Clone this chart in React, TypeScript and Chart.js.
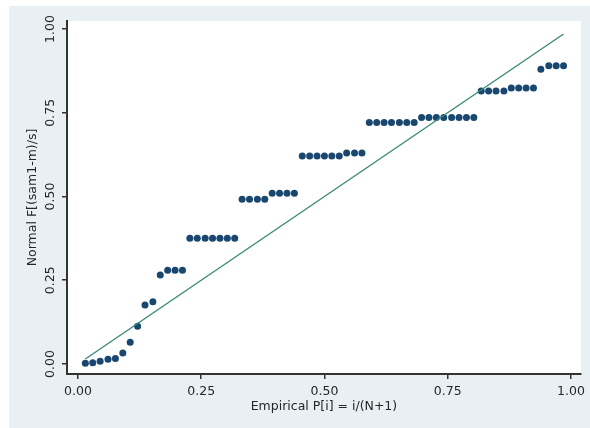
import React, { useEffect, useRef } from "react";
import { Chart, registerables } from "chart.js";

Chart.register(...registerables);

// Empirical P[i] = i/(N+1), N = 65
const empiricalP = [
  0.015, 0.030, 0.045, 0.061, 0.076, 0.091, 0.106, 0.121, 0.136, 0.152,
  0.167, 0.182, 0.197, 0.212, 0.227, 0.242, 0.258, 0.273, 0.288, 0.303,
  0.318, 0.333, 0.348, 0.364, 0.379, 0.394, 0.409, 0.424, 0.439, 0.455,
  0.470, 0.485, 0.500, 0.515, 0.530, 0.545, 0.561, 0.576, 0.591, 0.606,
  0.621, 0.636, 0.652, 0.667, 0.682, 0.697, 0.712, 0.727, 0.742, 0.758,
  0.773, 0.788, 0.803, 0.818, 0.833, 0.848, 0.864, 0.879, 0.894, 0.909,
  0.924, 0.939, 0.955, 0.970, 0.985,
];

// Normal F[(sam1-m)/s]
const normalF = [
  0.002, 0.004, 0.008, 0.014, 0.016, 0.033, 0.065, 0.113, 0.176, 0.186,
  0.266, 0.280, 0.280, 0.280, 0.375, 0.375, 0.375, 0.375, 0.375, 0.375,
  0.375, 0.492, 0.492, 0.492, 0.492, 0.510, 0.510, 0.510, 0.510, 0.621,
  0.621, 0.621, 0.621, 0.621, 0.621, 0.630, 0.630, 0.630, 0.721, 0.721,
  0.721, 0.721, 0.721, 0.721, 0.721, 0.736, 0.736, 0.736, 0.736, 0.736,
  0.736, 0.736, 0.736, 0.815, 0.815, 0.815, 0.815, 0.824, 0.824, 0.824,
  0.824, 0.880, 0.890, 0.890, 0.890,
];

const refLineX = [0.015, 0.985];
const refLineY = [0.015, 0.985];

const xTickValues = [0, 0.25, 0.5, 0.75, 1];
const yTickValues = [0, 0.25, 0.5, 0.75, 1];

const xTitle = "Empirical P[i] = i/(N+1)";
const yTitle = "Normal F[(sam1-m)/s]";

const FONT = "'DejaVu Sans', sans-serif";
const TEXT = "#262626";
const AXIS = "#333333";

export default function App() {
  const ref = useRef<HTMLCanvasElement>(null);

  useEffect(() => {
    if (!ref.current) return;

    const plotBg = {
      id: "plotBg",
      beforeDraw(chart: any) {
        const { ctx, chartArea: a } = chart;
        ctx.save();
        ctx.fillStyle = "#ffffff";
        ctx.fillRect(a.left, a.top, a.right - a.left, a.bottom - a.top);
        ctx.restore();
      },
    };

    const yLabels = {
      id: "yLabels",
      afterDraw(chart: any) {
        const s = chart.scales.y;
        const ctx = chart.ctx;
        ctx.save();
        ctx.fillStyle = TEXT;
        ctx.font = `12.5px ${FONT}`;
        ctx.textAlign = "center";
        ctx.textBaseline = "middle";
        for (const v of yTickValues) {
          const y = s.getPixelForValue(v);
          ctx.save();
          ctx.translate(s.right - 16, y);
          ctx.rotate(-Math.PI / 2);
          ctx.fillText(v.toFixed(2), 0, 0);
          ctx.restore();
        }
        ctx.restore();
      },
    };

    const chart = new Chart(ref.current, {
      type: "scatter",
      data: {
        datasets: [
          {
            type: "line",
            data: refLineX.map((x, i) => ({ x, y: refLineY[i] })),
            borderColor: "#3a8a78",
            borderWidth: 1.4,
            pointRadius: 0,
            fill: false,
            order: 0,
          } as any,
          {
            type: "scatter",
            data: empiricalP.map((x, i) => ({ x, y: normalF[i] })),
            backgroundColor: "#1a476f",
            borderColor: "#1a476f",
            borderWidth: 0,
            pointRadius: 3.5,
            order: 1,
          },
        ],
      },
      options: {
        responsive: false,
        animation: false,
        layout: { padding: { left: 0, right: 7, top: 15, bottom: 0 } },
        plugins: {
          legend: { display: false },
          tooltip: { enabled: false },
        },
        scales: {
          x: {
            type: "linear",
            min: -0.0222,
            max: 1.0202,
            afterBuildTicks: (s: any) => {
              s.ticks = xTickValues.map((v) => ({ value: v }));
            },
            afterFit: (s: any) => {
              s.height = 54;
            },
            ticks: {
              callback: (v: any) => Number(v).toFixed(2),
              font: { family: FONT, size: 12.5 },
              color: TEXT,
              padding: 5,
              maxRotation: 0,
              autoSkip: false,
            },
            grid: {
              drawOnChartArea: false,
              drawTicks: true,
              tickLength: 5,
              color: AXIS,
              lineWidth: 1.5,
            },
            border: { display: true, color: AXIS, width: 2 },
            title: {
              display: true,
              text: xTitle,
              font: { family: FONT, size: 12.5 },
              color: TEXT,
              padding: { top: 0, bottom: 14 },
            },
          },
          y: {
            type: "linear",
            min: -0.0299,
            max: 1.0239,
            afterBuildTicks: (s: any) => {
              s.ticks = yTickValues.map((v) => ({ value: v }));
            },
            afterFit: (s: any) => {
              s.width = 58;
            },
            ticks: { display: false },
            grid: {
              drawOnChartArea: false,
              drawTicks: true,
              tickLength: 5,
              color: AXIS,
              lineWidth: 1.5,
            },
            border: { display: true, color: AXIS, width: 2 },
            title: {
              display: true,
              text: yTitle,
              font: { family: FONT, size: 12.5 },
              color: TEXT,
              padding: { top: 16, bottom: 0 },
            },
          },
        },
      },
      plugins: [plotBg, yLabels],
    });

    return () => chart.destroy();
  }, []);

  return (
    <div
      style={{
        position: "absolute",
        left: 9,
        top: 6,
        width: 581,
        height: 422,
        background: "#e9f0f3",
      }}
    >
      <canvas ref={ref} width={581} height={422} style={{ display: "block" }} />
    </div>
  );
}
